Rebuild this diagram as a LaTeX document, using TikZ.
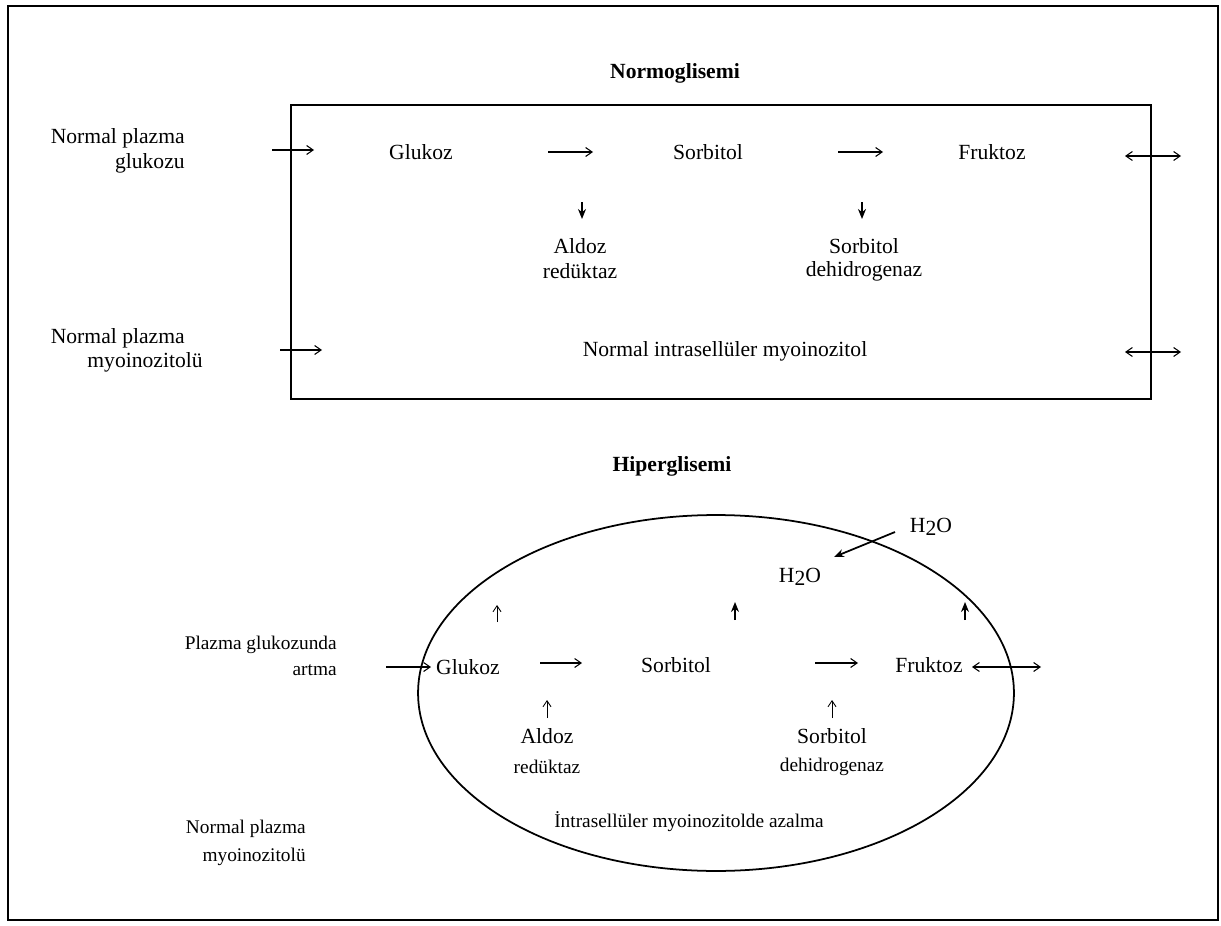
\documentclass[tikz,border=0pt]{standalone}
\usepackage{fontspec}
\setmainfont{Liberation Serif}
\usetikzlibrary{arrows.meta,shapes.geometric}
\begin{document}
\begin{tikzpicture}[x=0.02cm,y=-0.02cm,
  font=\fontsize{12.3}{14}\selectfont,
  txt/.style={inner sep=0pt, anchor=center},
  stxt/.style={inner sep=0pt, font=\fontsize{11}{13}\selectfont},
  ttl/.style={inner sep=0pt, anchor=center, font=\fontsize{12.3}{14}\selectfont\bfseries},
  arr/.style={-{Straight Barb[length=1.3mm,width=1.8mm]}, line width=0.6pt},
  darr/.style={{Straight Barb[length=1.3mm,width=1.8mm]}-{Straight Barb[length=1.3mm,width=1.8mm]}, line width=0.6pt},
  varr/.style={-{Stealth[length=2mm,width=1.6mm]}, line width=1pt},
  tarr/.style={-{Straight Barb[length=1.2mm,width=1.6mm]}, line width=0.5pt}]
\useasboundingbox (0,0) rectangle (1221,926);
\draw[line width=1.3pt] (8,6) rectangle (1218,920);

% ---------- Normoglisemi ----------
\node[ttl] (tnorm) at (675,73) {Normoglisemi};
\node[draw, line width=1pt, minimum width=17.2cm, minimum height=5.88cm, inner sep=0pt] (box) at (721,252) {};

\node[txt, anchor=east] (np1) at (185,138) {Normal plazma};
\node[txt, anchor=east] (np1b) at (185,163) {glukozu};
\coordinate (a1s) at (272,150); \coordinate (a1e) at (314,150);
\draw[arr] (a1s) -- (a1e);

\node[txt] (g1) at (421,152) {Glukoz};
\node[txt] (s1) at (708,152) {Sorbitol};
\node[txt] (f1) at (992,152) {Fruktoz};
\coordinate (a2s) at (548,152); \coordinate (a2e) at (593,152);
\coordinate (a3s) at (838,152); \coordinate (a3e) at (883,152);
\draw[arr] (a2s) -- (a2e);
\draw[arr] (a3s) -- (a3e);
\coordinate (d1s) at (1125,156); \coordinate (d1e) at (1181,156);
\draw[darr] (d1s) -- (d1e);

\coordinate (v1s) at (582,202); \coordinate (v1e) at (582,219);
\coordinate (v2s) at (862,202); \coordinate (v2e) at (862,219);
\draw[varr] (v1s) -- (v1e);
\draw[varr] (v2s) -- (v2e);

\node[txt] (ald1) at (580,246) {Aldoz};
\node[txt] (red1) at (580,271) {redüktaz};
\node[txt] (sd1) at (864,246) {Sorbitol};
\node[txt] (deh1) at (864,271) {dehidrogenaz};

\node[txt, anchor=east] (np2) at (185,338) {Normal plazma};
\node[txt, anchor=east] (np2b) at (203,362) {myoinozitolü};
\coordinate (a4s) at (280,350); \coordinate (a4e) at (322,350);
\draw[arr] (a4s) -- (a4e);
\node[txt] (nim) at (725,351) {Normal intrasellüler myoinozitol};
\coordinate (d2s) at (1125,352); \coordinate (d2e) at (1181,352);
\draw[darr] (d2s) -- (d2e);

% ---------- Hiperglisemi ----------
\node[ttl] (thip) at (672,466) {Hiperglisemi};
\node[draw, ellipse, line width=1pt, minimum width=11.92cm, minimum height=7.12cm, inner sep=0pt] (cell) at (716,693) {};

\node[txt] (h2o1) at (931,527) {H\raisebox{-0.35ex}{2}O};
\node[txt] (h2o2) at (800,577) {H\raisebox{-0.25ex}{2}O};
\coordinate (hs) at (895,532); \coordinate (he) at (834,557);
\draw[varr] (hs) -- (he);

\coordinate (u1s) at (497,622); \coordinate (u1e) at (497,605);
\coordinate (u2s) at (735,620); \coordinate (u2e) at (735,602);
\coordinate (u3s) at (965,620); \coordinate (u3e) at (965,602);
\draw[tarr] (u1s) -- (u1e);
\draw[varr] (u2s) -- (u2e);
\draw[varr] (u3s) -- (u3e);

\node[stxt, anchor=east] (pg) at (337,645) {Plazma glukozunda};
\node[stxt, anchor=east] (art) at (337,670) {artma};
\coordinate (a5s) at (386,667); \coordinate (a5e) at (431,667);
\draw[arr] (a5s) -- (a5e);

\node[txt] (g2) at (468,667) {Glukoz};
\node[txt] (s2) at (676,665) {Sorbitol};
\node[txt] (f2) at (929,665) {Fruktoz};
\coordinate (a6s) at (540,663); \coordinate (a6e) at (582,663);
\coordinate (a7s) at (815,663); \coordinate (a7e) at (858,663);
\draw[arr] (a6s) -- (a6e);
\draw[arr] (a7s) -- (a7e);
\coordinate (d3s) at (972,667); \coordinate (d3e) at (1041,667);
\draw[darr] (d3s) -- (d3e);

\coordinate (w1s) at (547,718); \coordinate (w1e) at (547,700);
\coordinate (w2s) at (832,718); \coordinate (w2e) at (832,700);
\draw[tarr] (w1s) -- (w1e);
\draw[tarr] (w2s) -- (w2e);

\node[txt] (ald2) at (547,736) {Aldoz};
\node[stxt] (red2) at (547,767) {redüktaz};
\node[txt] (sd2) at (832,736) {Sorbitol};
\node[stxt] (deh2) at (832,767) {dehidrogenaz};

\node[stxt] (ima) at (689,822) {İntrasellüler myoinozitolde azalma};
\node[stxt, anchor=east] (np3) at (306,829) {Normal plazma};
\node[stxt, anchor=east] (np3b) at (306,857) {myoinozitolü};
\end{tikzpicture}
\end{document}
